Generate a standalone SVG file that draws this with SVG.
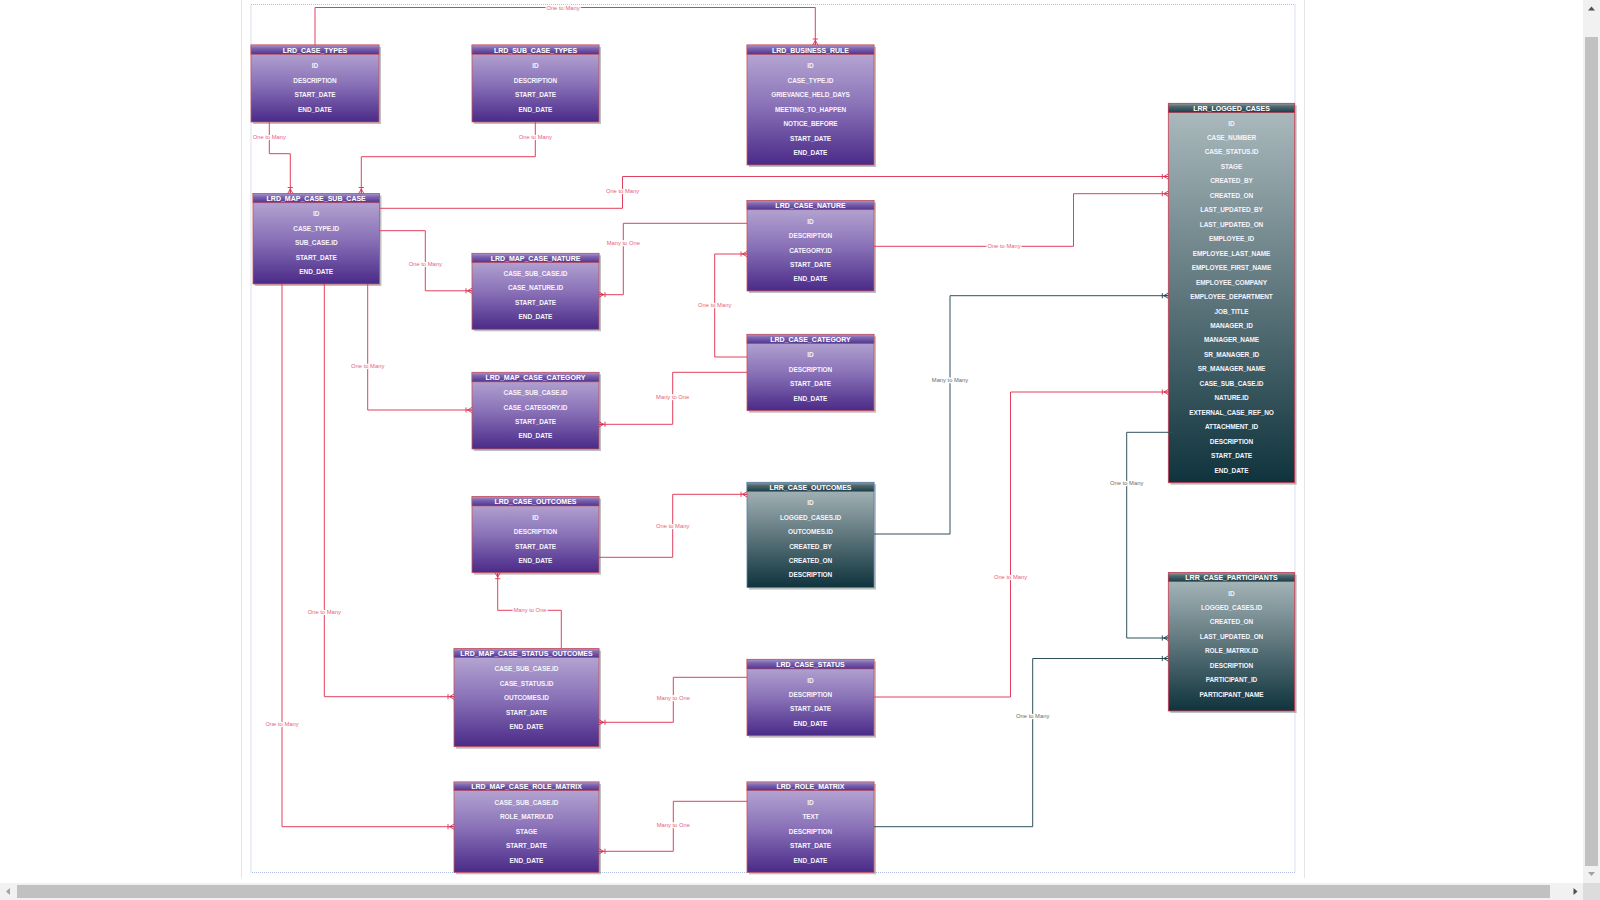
<svg xmlns="http://www.w3.org/2000/svg" width="1600" height="900" viewBox="0 0 1600 900">
<defs>
<linearGradient id="gBodyP" x1="0" y1="0" x2="0" y2="1">
<stop offset="0" stop-color="#bcaed6"/><stop offset="0.5" stop-color="#8a72b8"/><stop offset="1" stop-color="#4a2a88"/>
</linearGradient>
<linearGradient id="gHeadP" x1="0" y1="0" x2="0" y2="1">
<stop offset="0" stop-color="#a896cc"/><stop offset="0.35" stop-color="#7d66b0"/><stop offset="1" stop-color="#51338f"/>
</linearGradient>
<linearGradient id="gBodyT" x1="0" y1="0" x2="0" y2="1">
<stop offset="0" stop-color="#adbcbf"/><stop offset="0.5" stop-color="#5f777d"/><stop offset="1" stop-color="#0f333d"/>
</linearGradient>
<linearGradient id="gHeadT" x1="0" y1="0" x2="0" y2="1">
<stop offset="0" stop-color="#8a9fa4"/><stop offset="0.35" stop-color="#4f686f"/><stop offset="1" stop-color="#1b3c46"/>
</linearGradient>
<marker id="mR" viewBox="-8 -4 9 8" refX="0" refY="0" markerWidth="9" markerHeight="8" markerUnits="userSpaceOnUse" orient="auto">
<path d="M-4.5,0 L0,-2.6 M-4.5,0 L0,2.6 M-4.5,0 L0,0 M-6,-2.6 L-6,2.6" stroke="#d8304e" stroke-width="0.9" fill="none"/>
</marker>
<marker id="mT" viewBox="-8 -4 9 8" refX="0" refY="0" markerWidth="9" markerHeight="8" markerUnits="userSpaceOnUse" orient="auto">
<path d="M-4.5,0 L0,-2.6 M-4.5,0 L0,2.6 M-4.5,0 L0,0 M-6,-2.6 L-6,2.6" stroke="#1f3f4a" stroke-width="0.9" fill="none"/>
</marker>
<style>
.sh{fill:#8c8c8c;opacity:0.55}
.bp{fill:url(#gBodyP);stroke:#c8505a;stroke-width:0.8}
.hp{fill:url(#gHeadP);stroke:#c8505a;stroke-width:0.6}
.bt{fill:url(#gBodyT);stroke:#cc3a52;stroke-width:0.8}
.ht{fill:url(#gHeadT);stroke:#cc3a52;stroke-width:0.6}
.h{font-family:"Liberation Sans",Arial,sans-serif;font-size:7px;font-weight:bold;fill:#ffffff;text-anchor:middle}
.f{font-family:"Liberation Sans",Arial,sans-serif;font-size:6.5px;font-weight:bold;fill:#f6f3fb;text-anchor:middle;letter-spacing:-0.1px}
.cr{fill:none;stroke:#e0405e;stroke-width:1;marker-end:url(#mR)}
.ct{fill:none;stroke:#2f505b;stroke-width:1;marker-end:url(#mT)}
.lr{font-family:"Liberation Sans",Arial,sans-serif;font-size:5.8px;fill:#e8607a;text-anchor:middle;stroke:#ffffff;stroke-width:2.5px;paint-order:stroke}
.lt{font-family:"Liberation Sans",Arial,sans-serif;font-size:5.8px;fill:#6a6a6a;text-anchor:middle;stroke:#ffffff;stroke-width:2.5px;paint-order:stroke}
</style>
</defs>
<rect x="0" y="0" width="1600" height="900" fill="#ffffff"/>
<g id="page">
<line x1="241.5" y1="0" x2="241.5" y2="878" stroke="#e6e6e6" stroke-width="1"/>
<line x1="1304.5" y1="0" x2="1304.5" y2="878" stroke="#e6e6e6" stroke-width="1"/>
<rect x="251" y="4.5" width="1044" height="868" fill="none" stroke="#9ab0da" stroke-width="0.8" stroke-dasharray="1,1"/>
</g>

<g id="lrd_case_types" transform="translate(251,45)">
<rect class="sh" x="2" y="2" width="128" height="77"/>
<rect class="bp" x="0" y="0" width="128" height="77"/>
<rect class="hp" x="0" y="0" width="128" height="9.3"/>
<text class="h" x="64" y="7.8">LRD_CASE_TYPES</text>
<text class="f" x="64" y="22.6">ID</text>
<text class="f" x="64" y="37.6">DESCRIPTION</text>
<text class="f" x="64" y="52">START_DATE</text>
<text class="f" x="64" y="67">END_DATE</text>
</g>

<g id="lrd_sub_case_types" transform="translate(472,45)">
<rect class="sh" x="2" y="2" width="127" height="77"/>
<rect class="bp" x="0" y="0" width="127" height="77"/>
<rect class="hp" x="0" y="0" width="127" height="9.3"/>
<text class="h" x="63.5" y="7.8">LRD_SUB_CASE_TYPES</text>
<text class="f" x="63.5" y="22.6">ID</text>
<text class="f" x="63.5" y="37.6">DESCRIPTION</text>
<text class="f" x="63.5" y="52">START_DATE</text>
<text class="f" x="63.5" y="67">END_DATE</text>
</g>

<g id="lrd_business_rule" transform="translate(747,45)">
<rect class="sh" x="2" y="2" width="127" height="120"/>
<rect class="bp" x="0" y="0" width="127" height="120"/>
<rect class="hp" x="0" y="0" width="127" height="9.5"/>
<text class="h" x="63.5" y="7.8">LRD_BUSINESS_RULE</text>
<text class="f" x="63.5" y="22.6">ID</text>
<text class="f" x="63.5" y="37.6">CASE_TYPE.ID</text>
<text class="f" x="63.5" y="52">GRIEVANCE_HELD_DAYS</text>
<text class="f" x="63.5" y="66.6">MEETING_TO_HAPPEN</text>
<text class="f" x="63.5" y="80.6">NOTICE_BEFORE</text>
<text class="f" x="63.5" y="95.6">START_DATE</text>
<text class="f" x="63.5" y="110">END_DATE</text>
</g>

<g id="lrd_map_case_sub_case" transform="translate(253,193.5)">
<rect class="sh" x="2" y="2" width="126.5" height="90.5"/>
<rect class="bp" x="0" y="0" width="126.5" height="90.5"/>
<rect class="hp" x="0" y="0" width="126.5" height="9.3"/>
<text class="h" x="63.2" y="7.6">LRD_MAP_CASE_SUB_CASE</text>
<text class="f" x="63.2" y="22.1">ID</text>
<text class="f" x="63.2" y="37.5">CASE_TYPE.ID</text>
<text class="f" x="63.2" y="51.1">SUB_CASE.ID</text>
<text class="f" x="63.2" y="66.5">START_DATE</text>
<text class="f" x="63.2" y="80.5">END_DATE</text>
</g>

<g id="lrd_case_nature" transform="translate(747,200.5)">
<rect class="sh" x="2" y="2" width="127" height="90.5"/>
<rect class="bp" x="0" y="0" width="127" height="90.5"/>
<rect class="hp" x="0" y="0" width="127" height="9.3"/>
<text class="h" x="63.5" y="7.6">LRD_CASE_NATURE</text>
<text class="f" x="63.5" y="23.1">ID</text>
<text class="f" x="63.5" y="37.1">DESCRIPTION</text>
<text class="f" x="63.5" y="52.1">CATEGORY.ID</text>
<text class="f" x="63.5" y="66.1">START_DATE</text>
<text class="f" x="63.5" y="80.5">END_DATE</text>
</g>

<g id="lrd_map_case_nature" transform="translate(472,253.3)">
<rect class="sh" x="2" y="2" width="127" height="76"/>
<rect class="bp" x="0" y="0" width="127" height="76"/>
<rect class="hp" x="0" y="0" width="127" height="9.4"/>
<text class="h" x="63.5" y="7.6">LRD_MAP_CASE_NATURE</text>
<text class="f" x="63.5" y="22.3">CASE_SUB_CASE.ID</text>
<text class="f" x="63.5" y="36.3">CASE_NATURE.ID</text>
<text class="f" x="63.5" y="51.3">START_DATE</text>
<text class="f" x="63.5" y="65.3">END_DATE</text>
</g>

<g id="lrd_case_category" transform="translate(747,334.3)">
<rect class="sh" x="2" y="2" width="127" height="76.4"/>
<rect class="bp" x="0" y="0" width="127" height="76.4"/>
<rect class="hp" x="0" y="0" width="127" height="9.4"/>
<text class="h" x="63.5" y="7.6">LRD_CASE_CATEGORY</text>
<text class="f" x="63.5" y="22.3">ID</text>
<text class="f" x="63.5" y="37.3">DESCRIPTION</text>
<text class="f" x="63.5" y="51.7">START_DATE</text>
<text class="f" x="63.5" y="66.7">END_DATE</text>
</g>

<g id="lrd_map_case_category" transform="translate(472,372.3)">
<rect class="sh" x="2" y="2" width="127" height="76.7"/>
<rect class="bp" x="0" y="0" width="127" height="76.7"/>
<rect class="hp" x="0" y="0" width="127" height="9.6"/>
<text class="h" x="63.5" y="7.6">LRD_MAP_CASE_CATEGORY</text>
<text class="f" x="63.5" y="22.3">CASE_SUB_CASE.ID</text>
<text class="f" x="63.5" y="37.3">CASE_CATEGORY.ID</text>
<text class="f" x="63.5" y="51.7">START_DATE</text>
<text class="f" x="63.5" y="65.7">END_DATE</text>
</g>

<g id="lrd_case_outcomes" transform="translate(472,496.7)">
<rect class="sh" x="2" y="2" width="127" height="76"/>
<rect class="bp" x="0" y="0" width="127" height="76"/>
<rect class="hp" x="0" y="0" width="127" height="9.3"/>
<text class="h" x="63.5" y="7.6">LRD_CASE_OUTCOMES</text>
<text class="f" x="63.5" y="22.9">ID</text>
<text class="f" x="63.5" y="36.9">DESCRIPTION</text>
<text class="f" x="63.5" y="51.9">START_DATE</text>
<text class="f" x="63.5" y="65.9">END_DATE</text>
</g>

<g id="lrr_case_outcomes" transform="translate(747,482.3)">
<rect class="sh" x="2" y="2" width="127" height="105.3"/>
<rect class="bt" x="0" y="0" width="127" height="105.3" style="stroke:#5a80a8"/>
<rect class="ht" x="0" y="0" width="127" height="9.4" style="stroke:#5a80a8"/>
<text class="h" x="63.5" y="7.6">LRR_CASE_OUTCOMES</text>
<text class="f" x="63.5" y="22.3">ID</text>
<text class="f" x="63.5" y="37.3">LOGGED_CASES.ID</text>
<text class="f" x="63.5" y="51.3">OUTCOMES.ID</text>
<text class="f" x="63.5" y="66.3">CREATED_BY</text>
<text class="f" x="63.5" y="80.3">CREATED_ON</text>
<text class="f" x="63.5" y="94.3">DESCRIPTION</text>
</g>

<g id="lrd_map_case_status_outcomes" transform="translate(454,648.7)">
<rect class="sh" x="2" y="2" width="145" height="98"/>
<rect class="bp" x="0" y="0" width="145" height="98"/>
<rect class="hp" x="0" y="0" width="145" height="9"/>
<text class="h" x="72.5" y="7.4">LRD_MAP_CASE_STATUS_OUTCOMES</text>
<text class="f" x="72.5" y="21.9">CASE_SUB_CASE.ID</text>
<text class="f" x="72.5" y="36.9">CASE_STATUS.ID</text>
<text class="f" x="72.5" y="50.9">OUTCOMES.ID</text>
<text class="f" x="72.5" y="65.9">START_DATE</text>
<text class="f" x="72.5" y="79.9">END_DATE</text>
</g>

<g id="lrd_case_status" transform="translate(747,659.3)">
<rect class="sh" x="2" y="2" width="127" height="76.4"/>
<rect class="bp" x="0" y="0" width="127" height="76.4"/>
<rect class="hp" x="0" y="0" width="127" height="9.7"/>
<text class="h" x="63.5" y="7.8">LRD_CASE_STATUS</text>
<text class="f" x="63.5" y="23.3">ID</text>
<text class="f" x="63.5" y="37.3">DESCRIPTION</text>
<text class="f" x="63.5" y="51.3">START_DATE</text>
<text class="f" x="63.5" y="66.3">END_DATE</text>
</g>

<g id="lrd_map_case_role_matrix" transform="translate(454,782)">
<rect class="sh" x="2" y="2" width="145" height="90.3"/>
<rect class="bp" x="0" y="0" width="145" height="90.3"/>
<rect class="hp" x="0" y="0" width="145" height="8.7"/>
<text class="h" x="72.5" y="7.2">LRD_MAP_CASE_ROLE_MATRIX</text>
<text class="f" x="72.5" y="22.6">CASE_SUB_CASE.ID</text>
<text class="f" x="72.5" y="36.6">ROLE_MATRIX.ID</text>
<text class="f" x="72.5" y="51.6">STAGE</text>
<text class="f" x="72.5" y="66">START_DATE</text>
<text class="f" x="72.5" y="80.6">END_DATE</text>
</g>

<g id="lrd_role_matrix" transform="translate(747,782)">
<rect class="sh" x="2" y="2" width="127" height="90.3"/>
<rect class="bp" x="0" y="0" width="127" height="90.3"/>
<rect class="hp" x="0" y="0" width="127" height="8.7"/>
<text class="h" x="63.5" y="7.2">LRD_ROLE_MATRIX</text>
<text class="f" x="63.5" y="22.6">ID</text>
<text class="f" x="63.5" y="36.6">TEXT</text>
<text class="f" x="63.5" y="51.6">DESCRIPTION</text>
<text class="f" x="63.5" y="66">START_DATE</text>
<text class="f" x="63.5" y="80.6">END_DATE</text>
</g>

<g id="lrr_logged_cases" transform="translate(1168.3,103.3)">
<rect class="sh" x="2" y="2" width="126.4" height="379.4"/>
<rect class="bt" x="0" y="0" width="126.4" height="379.4"/>
<rect class="ht" x="0" y="0" width="126.4" height="9.4"/>
<text class="h" x="63.2" y="7.6">LRR_LOGGED_CASES</text>
<text class="f" x="63.2" y="22.3">ID</text>
<text class="f" x="63.2" y="36.8">CASE_NUMBER</text>
<text class="f" x="63.2" y="51.2">CASE_STATUS.ID</text>
<text class="f" x="63.2" y="65.7">STAGE</text>
<text class="f" x="63.2" y="80.1">CREATED_BY</text>
<text class="f" x="63.2" y="94.6">CREATED_ON</text>
<text class="f" x="63.2" y="109.1">LAST_UPDATED_BY</text>
<text class="f" x="63.2" y="123.5">LAST_UPDATED_ON</text>
<text class="f" x="63.2" y="138">EMPLOYEE_ID</text>
<text class="f" x="63.2" y="152.4">EMPLOYEE_LAST_NAME</text>
<text class="f" x="63.2" y="166.9">EMPLOYEE_FIRST_NAME</text>
<text class="f" x="63.2" y="181.4">EMPLOYEE_COMPANY</text>
<text class="f" x="63.2" y="195.8">EMPLOYEE_DEPARTMENT</text>
<text class="f" x="63.2" y="210.3">JOB_TITLE</text>
<text class="f" x="63.2" y="224.7">MANAGER_ID</text>
<text class="f" x="63.2" y="239.2">MANAGER_NAME</text>
<text class="f" x="63.2" y="253.7">SR_MANAGER_ID</text>
<text class="f" x="63.2" y="268.1">SR_MANAGER_NAME</text>
<text class="f" x="63.2" y="282.6">CASE_SUB_CASE.ID</text>
<text class="f" x="63.2" y="297">NATURE.ID</text>
<text class="f" x="63.2" y="311.5">EXTERNAL_CASE_REF_NO</text>
<text class="f" x="63.2" y="326">ATTACHMENT_ID</text>
<text class="f" x="63.2" y="340.4">DESCRIPTION</text>
<text class="f" x="63.2" y="354.9">START_DATE</text>
<text class="f" x="63.2" y="369.3">END_DATE</text>
</g>

<g id="lrr_case_participants" transform="translate(1168.3,572.7)">
<rect class="sh" x="2" y="2" width="126.4" height="138.3"/>
<rect class="bt" x="0" y="0" width="126.4" height="138.3"/>
<rect class="ht" x="0" y="0" width="126.4" height="9"/>
<text class="h" x="63.2" y="7.4">LRR_CASE_PARTICIPANTS</text>
<text class="f" x="63.2" y="22.9">ID</text>
<text class="f" x="63.2" y="36.9">LOGGED_CASES.ID</text>
<text class="f" x="63.2" y="50.9">CREATED_ON</text>
<text class="f" x="63.2" y="65.9">LAST_UPDATED_ON</text>
<text class="f" x="63.2" y="79.9">ROLE_MATRIX.ID</text>
<text class="f" x="63.2" y="94.9">DESCRIPTION</text>
<text class="f" x="63.2" y="108.9">PARTICIPANT_ID</text>
<text class="f" x="63.2" y="123.9">PARTICIPANT_NAME</text>
</g>

<g id="connectors">
<path class="cr" d="M315,45 V7.5 H815.3 V45"/>
<path class="cr" d="M269.3,122 V153.7 H290.3 V193.5"/>
<path class="cr" d="M535.3,122 V156.7 H361.3 V193.5"/>
<path class="cr" d="M379.5,208.3 H622.5 V176.5 H1168.3"/>
<path class="cr" d="M379.5,230.7 H425.3 V290.8 H472"/>
<path class="cr" d="M747,223.3 H623.3 V294.7 H599"/>
<path class="cr" d="M874,246.3 H1073.5 V193.7 H1168.3"/>
<path class="cr" d="M747,357 H714.7 V254 H747"/>
<path class="cr" d="M747,372.3 H672.7 V424.3 H599"/>
<path class="cr" d="M367.7,284 V410 H472"/>
<path class="cr" d="M599,557.3 H672.7 V494.3 H747"/>
<path class="ct" d="M874,534 H950 V295.7 H1168.3"/>
<path class="cr" d="M324.3,284 V696.7 H454"/>
<path class="cr" d="M282,284 V826.7 H454"/>
<path class="cr" d="M561.3,648.7 V610.3 H497.7 V572.7"/>
<path class="cr" d="M747,677.3 H673.3 V722.3 H599"/>
<path class="cr" d="M747,801.3 H673.3 V851.3 H599"/>
<path class="cr" d="M874,697 H1010.5 V392 H1168.3"/>
<path class="ct" d="M1173.7,432.3 H1126.7 V638 H1168.3"/>
<path class="ct" d="M874,826.7 H1032.7 V658.5 H1168.3"/>
<text class="lr" x="563" y="9.5">One to Many</text>
<text class="lr" x="269.3" y="138.7">One to Many</text>
<text class="lr" x="535.3" y="138.7">One to Many</text>
<text class="lr" x="622.5" y="193">One to Many</text>
<text class="lr" x="425.3" y="266.4">One to Many</text>
<text class="lr" x="623.3" y="245">Many to One</text>
<text class="lr" x="1004" y="248.3">One to Many</text>
<text class="lr" x="714.7" y="307">One to Many</text>
<text class="lr" x="672.7" y="399.3">Many to One</text>
<text class="lr" x="367.7" y="367.7">One to Many</text>
<text class="lr" x="672.7" y="527.8">One to Many</text>
<text class="lt" x="950" y="382.2">Many to Many</text>
<text class="lr" x="324.3" y="614.4">One to Many</text>
<text class="lr" x="282" y="726.3">One to Many</text>
<text class="lr" x="530" y="612.3">Many to One</text>
<text class="lr" x="673.3" y="699.8">Many to One</text>
<text class="lr" x="673.3" y="826.7">Many to One</text>
<text class="lr" x="1010.5" y="579">One to Many</text>
<text class="lt" x="1126.7" y="485.3">One to Many</text>
<text class="lt" x="1032.7" y="718">One to Many</text>
</g>

<g id="scrollbars">
<rect x="1583" y="0" width="17" height="883" fill="#f1f1f1"/>
<rect x="1585" y="37" width="13" height="829" fill="#c1c1c1"/>
<polygon points="1588,10.5 1595,10.5 1591.5,6.5" fill="#505050"/>
<polygon points="1588,872 1595,872 1591.5,876" fill="#a3a3a3"/>
<rect x="0" y="883" width="1583" height="17" fill="#f1f1f1"/>
<rect x="17" y="885" width="1533" height="13" fill="#c1c1c1"/>
<polygon points="10,888 10,895 6,891.5" fill="#a3a3a3"/>
<polygon points="1573.5,888 1573.5,895 1577.5,891.5" fill="#505050"/>
<rect x="1583" y="883" width="17" height="17" fill="#dcdcdc"/>
</g>
</svg>
